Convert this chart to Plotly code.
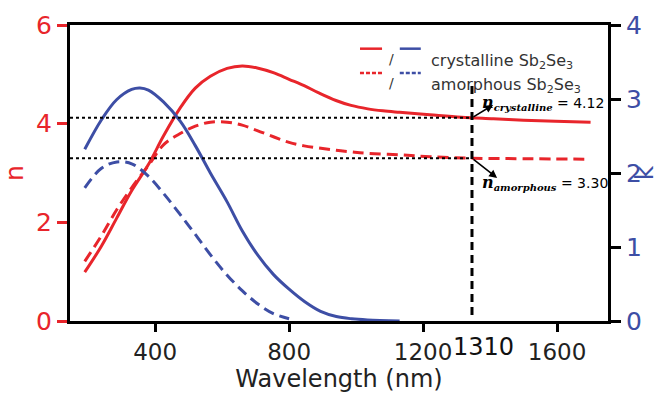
import plotly.graph_objects as go

# ---------------- data ----------------
wl_n_cryst = [190, 240, 285, 330, 380, 425, 475, 520, 565, 615, 660, 705, 755, 800, 845, 887, 940, 985, 1035, 1080, 1130, 1220, 1315, 1410, 1500, 1595, 1700]
n_cryst    = [0.99, 1.52, 2.08, 2.64, 3.17, 3.75, 4.32, 4.72, 4.96, 5.12, 5.17, 5.13, 5.03, 4.90, 4.77, 4.63, 4.47, 4.37, 4.30, 4.26, 4.23, 4.18, 4.13, 4.10, 4.07, 4.05, 4.03]

wl_n_amor  = [190, 240, 285, 330, 380, 425, 475, 520, 565, 615, 660, 705, 755, 800, 845, 895, 940, 985, 1035, 1130, 1220, 1345, 1500, 1700]
n_amor     = [1.21, 1.73, 2.25, 2.70, 3.15, 3.57, 3.80, 3.95, 4.03, 4.03, 3.97, 3.86, 3.73, 3.62, 3.55, 3.50, 3.46, 3.43, 3.40, 3.37, 3.33, 3.30, 3.29, 3.28]

wl_k_cryst = [190, 240, 285, 330, 355, 380, 425, 475, 520, 565, 615, 660, 705, 753, 800, 847, 894, 941, 987, 1034, 1130]
k_cryst    = [2.32, 2.72, 2.99, 3.13, 3.15, 3.12, 2.96, 2.70, 2.37, 2.00, 1.61, 1.22, 0.90, 0.63, 0.43, 0.26, 0.13, 0.06, 0.03, 0.015, 0.0]

wl_k_amor  = [190, 239, 286, 332, 379, 426, 473, 520, 566, 613, 660, 707, 753, 800]
k_amor     = [1.80, 2.06, 2.15, 2.12, 1.96, 1.72, 1.45, 1.17, 0.89, 0.63, 0.41, 0.23, 0.10, 0.03]

x_ticks = [400, 800, 1200, 1600]
marker_pos = 1346          # where the dashed "1310" marker sits on the drawn axis
marker_label = "1310"
n_cryst_val = 4.12
n_amor_val = 3.30

RED = "#e8252b"
BLUE = "#3d4ea5"
FONT = "DejaVu Sans"
DASH = "11px,6px"

fig = go.Figure()
fig.add_trace(go.Scatter(x=wl_n_cryst, y=n_cryst, mode="lines", line=dict(color=RED, width=3, shape="spline", smoothing=1.0), yaxis="y"))
fig.add_trace(go.Scatter(x=wl_n_amor, y=n_amor, mode="lines", line=dict(color=RED, width=3, dash=DASH, shape="spline", smoothing=1.0), yaxis="y"))
fig.add_trace(go.Scatter(x=wl_k_cryst, y=k_cryst, mode="lines", line=dict(color=BLUE, width=3, shape="spline", smoothing=1.0), yaxis="y2"))
fig.add_trace(go.Scatter(x=wl_k_amor, y=k_amor, mode="lines", line=dict(color=BLUE, width=3, dash=DASH, shape="spline", smoothing=1.0), yaxis="y2"))

# dotted horizontal guides
for v in (n_cryst_val, n_amor_val):
    fig.add_shape(type="line", xref="x", yref="y", x0=146, x1=marker_pos, y0=v, y1=v,
                  line=dict(color="black", width=2, dash="dot"))
# vertical dashed marker
fig.add_shape(type="line", xref="x", yref="y", x0=marker_pos, x1=marker_pos, y0=0.12, y1=4.83,
              line=dict(color="black", width=3, dash="8px,5px"))

# arrows
fig.add_annotation(x=marker_pos + 63, y=n_cryst_val + 0.26, ax=marker_pos, ay=n_cryst_val,
                   xref="x", yref="y", axref="x", ayref="y", showarrow=True,
                   arrowhead=2, arrowsize=1, arrowwidth=1.6, arrowcolor="black", text="")
fig.add_annotation(x=marker_pos + 75, y=n_amor_val - 0.40, ax=marker_pos, ay=n_amor_val,
                   xref="x", yref="y", axref="x", ayref="y", showarrow=True,
                   arrowhead=2, arrowsize=1, arrowwidth=1.6, arrowcolor="black", text="")

def ntext(sub, val):
    return (f"<span style='font-family:DejaVu Serif;font-size:16px'><b><i>n</i></b></span>"
            f"<sub><span style='font-family:DejaVu Serif;font-size:10px'><b><i>{sub}</i></b></span></sub>"
            f" = {val:.2f}")

fig.add_annotation(x=0.762, y=0.738, xref="paper", yref="paper", xanchor="left", yanchor="middle",
                   showarrow=False, font=dict(family=FONT, size=14, color="black"),
                   text=ntext("crystalline", n_cryst_val))
fig.add_annotation(x=0.762, y=0.465, xref="paper", yref="paper", xanchor="left", yanchor="middle",
                   showarrow=False, font=dict(family=FONT, size=14, color="black"),
                   text=ntext("amorphous", n_amor_val))

# 1310 label
fig.add_annotation(x=marker_pos, y=0, xref="x", yref="paper", xshift=12, yshift=-10, yanchor="top",
                   showarrow=False, text=marker_label,
                   font=dict(family="Liberation Sans Narrow, " + FONT, size=24, color="#111"))

# custom legend
rows = [(0.92, "solid", "crystalline Sb<sub>2</sub>Se<sub>3</sub>"),
        (0.838, "4px,2px", "amorphous Sb<sub>2</sub>Se<sub>3</sub>")]
for yy, dsh, label in rows:
    fig.add_shape(type="line", xref="paper", yref="paper", x0=0.539, x1=0.580, y0=yy, y1=yy,
                  line=dict(color=RED, width=2.5, dash=dsh))
    fig.add_shape(type="line", xref="paper", yref="paper", x0=0.613, x1=0.652, y0=yy, y1=yy,
                  line=dict(color=BLUE, width=2.5, dash=dsh))
    fig.add_annotation(x=0.597, y=yy, xref="paper", yref="paper", text="/", showarrow=False,
                       font=dict(family=FONT, size=14, color="#333"))
    fig.add_annotation(x=0.667, y=yy, xref="paper", yref="paper", text=label, xanchor="left",
                       showarrow=False, font=dict(family=FONT, size=16, color="#333"))

fig.update_layout(
    width=659, height=400,
    margin=dict(l=70, r=51, t=25, b=79),
    paper_bgcolor="white", plot_bgcolor="white",
    showlegend=False,
    xaxis=dict(range=[146, 1752], tickvals=x_ticks, ticks="outside", ticklen=8, tickwidth=3,
               tickcolor="black", showline=True, linecolor="black", linewidth=3, mirror=True,
               showgrid=False, zeroline=False, automargin=False,
               tickfont=dict(family=FONT, size=23, color="#222"),
               title=dict(text="Wavelength (nm)", font=dict(family=FONT, size=24, color="#222"), standoff=2)),
    yaxis=dict(range=[0, 6], tickvals=[0, 2, 4, 6], ticks="outside", ticklen=10, tickwidth=3,
               tickcolor=RED, showline=True, linecolor="black", linewidth=3,
               showgrid=False, zeroline=False, automargin=False,
               tickfont=dict(family=FONT, size=25, color=RED),
               title=dict(text="n", font=dict(family=FONT, size=25, color=RED), standoff=12)),
    yaxis2=dict(range=[0, 4], tickvals=[0, 1, 2, 3, 4], overlaying="y", side="right",
                ticks="outside", ticklen=10, tickwidth=3, tickcolor="black",
                showline=True, linecolor="black", linewidth=3,
                showgrid=False, zeroline=False, automargin=False,
                tickfont=dict(family=FONT, size=25, color=BLUE),
                title=dict(text="k", font=dict(family=FONT, size=25, color=BLUE), standoff=4)),
)

fig.write_html("out.html")
